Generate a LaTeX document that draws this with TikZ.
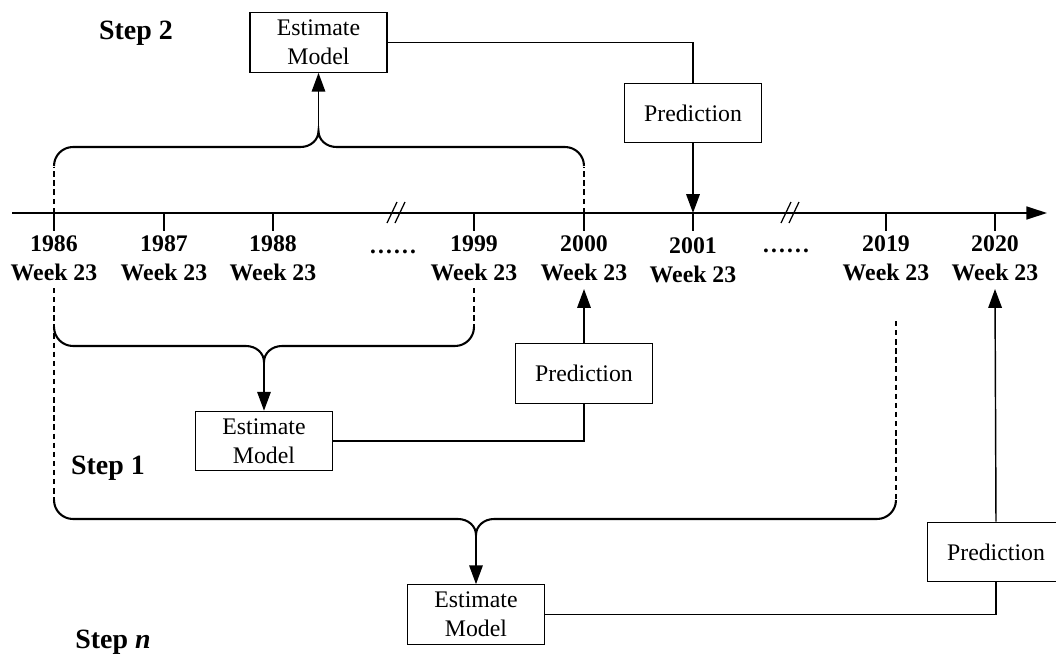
\documentclass[tikz,border=0pt]{standalone}
\usepackage{fontspec}
\setmainfont{Liberation Serif}
\usetikzlibrary{arrows.meta}

% brace over a run of years: x left, x right, x of the tip, y, direction (1 down, -1 up), tip name
\newcommand{\yearbrace}[6]{%
	\draw [brc] ({#1},{#4-19*#5}) .. controls ({#1},{#4-8.5*#5}) and ({#1+8.5},{#4}) .. ({#1+19},{#4})
		-- ({#3-18},{#4}) .. controls ({#3-8},{#4}) and ({#3},{#4+7*#5}) .. ({#3},{#4+16*#5})
		.. controls ({#3},{#4+7*#5}) and ({#3+8},{#4}) .. ({#3+18},{#4})
		-- ({#2-19},{#4}) .. controls ({#2-8.5},{#4}) and ({#2},{#4-8.5*#5}) .. ({#2},{#4-19*#5});
	\coordinate (#6) at ({#3},{#4+16*#5});
}

\tikzset{
	box/.style={draw, line width=0.6pt, minimum width=2.33cm, minimum height=1.01cm, inner sep=0pt, align=center, font=\fontsize{11.5}{14}\selectfont},
	yr/.style={align=center, inner sep=0pt, font=\fontsize{11.5}{14}\selectfont\bfseries},
	steplbl/.style={inner sep=0pt, font=\fontsize{13.5}{16}\selectfont\bfseries},
	brc/.style={line width=1pt},
	guide/.style={line width=0.6pt, dash pattern=on 2.6pt off 1.8pt},
	link/.style={line width=0.6pt},
	arr/.style={line width=0.7pt, -{Triangle[length=3.2mm, width=2.3mm]}},
}

\begin{document}
\begin{tikzpicture}[x=0.017cm, y=-0.017cm]
		\useasboundingbox (0,0) rectangle (1056,658);

		% time axis
		\draw [line width=0.8pt, -{Triangle[length=3.5mm, width=2.2mm]}] (12,213) -- (1047,213);
		\foreach \x/\yy in {54/1986, 164/1987, 273/1988, 474/1999, 584/2000, 886/2019, 995/2020} {
			\draw [link] (\x,213) -- (\x,231);
			\node [yr] (y\yy) at (\x,258) {\yy\\Week 23};
		}
		\draw [link] (693,213) -- (693,231);
		\node [yr] (y2001) at (693,260) {2001\\Week 23};
		\node [yr] (dots1) at (393,252) {……};
		\node [yr] (dots2) at (786,251) {……};
		% axis breaks
		\draw [link] (387,223) -- (397,202);
		\draw [link] (395,223) -- (405,202);
		\draw [link] (781,223) -- (791,202);
		\draw [link] (789,223) -- (799,202);

		\coordinate (t2001) at (693,213);
		\coordinate (u2000) at (584,289);
		\coordinate (u2020) at (995,289);

		% step 2
		\node [steplbl] (s2) at (136,33) {Step 2};
		\node [box] (est2) at (318.5,42.5) {Estimate\\Model};
		\node [box] (pred2) at (693,113) {Prediction};
		\draw [guide] (54,213) -- (54,167);
		\draw [guide] (584,213) -- (584,167);
		\yearbrace{54}{584}{318.5}{147}{-1}{tip2}
		\draw [arr] (tip2) -- (est2.south);
		\draw [link] (est2.east) -| (pred2.north);
		\draw [arr] (pred2.south) -- (t2001);

		% step 1
		\node [steplbl] (s1) at (108,468) {Step 1};
		\node [box] (est1) at (264,441) {Estimate\\Model};
		\node [box] (pred1) at (584,373.5) {Prediction};
		\draw [guide] (54,288) -- (54,500);
		\draw [guide] (474,288) -- (474,327);
		\yearbrace{54}{474}{264}{346}{1}{tip1}
		\draw [arr] (tip1) -- (est1.north);
		\draw [link] (est1.east) -| (pred1.south);
		\draw [arr] (pred1.north) -- (u2000);

		% step n
		\node [steplbl] (sn) at (113,642) {Step \textit{n}};
		\node [box] (estn) at (476,614.5) {Estimate\\Model};
		\node [box] (predn) at (996,552) {Prediction};
		\draw [guide] (896,321) -- (896,500);
		\yearbrace{54}{896}{476}{519}{1}{tipn}
		\draw [arr] (tipn) -- (estn.north);
		\draw [link] (estn.east) -| (predn.south);
		\draw [arr] (predn.north) -- (u2020);
	\end{tikzpicture}
\end{document}
